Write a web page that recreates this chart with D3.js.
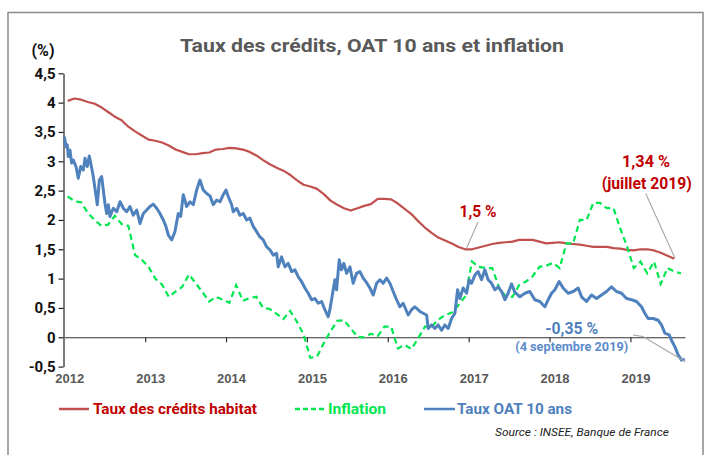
<!DOCTYPE html>
<html>
<head>
<meta charset="utf-8">
<script src="https://cdn.jsdelivr.net/npm/d3@7/dist/d3.min.js"></script>
<style>
  body { margin: 0; background: #fff; }
  svg { display: block; font-family: "Liberation Sans Narrow", "Roboto", "Liberation Sans", sans-serif; }
</style>
</head>
<body>
<div id="container"></div>
<script>
"use strict";

// Taux des credits habitat, mensuel, janvier 2012 -> juillet 2019
var creditValues = [
    4.03, 4.07, 4.05, 4.01, 3.98, 3.92, 3.84, 3.76, 3.70, 3.59, 3.51, 3.44,
    3.37, 3.35, 3.32, 3.27, 3.20, 3.16, 3.12, 3.12, 3.14, 3.15, 3.20, 3.21,
    3.23, 3.22, 3.20, 3.16, 3.10, 3.02, 2.95, 2.89, 2.84, 2.77, 2.68, 2.60,
    2.57, 2.53, 2.44, 2.33, 2.26, 2.20, 2.16, 2.20, 2.24, 2.27, 2.36, 2.36,
    2.35, 2.28, 2.19, 2.10, 1.98, 1.87, 1.78, 1.70, 1.65, 1.60, 1.54, 1.50,
    1.50, 1.53, 1.56, 1.59, 1.61, 1.62, 1.63, 1.66, 1.66, 1.66, 1.63, 1.60,
    1.61, 1.62, 1.60, 1.59, 1.58, 1.56, 1.54, 1.54, 1.54, 1.52, 1.51, 1.49,
    1.48, 1.50, 1.50, 1.48, 1.44, 1.39, 1.34
];

// Inflation, mensuel, janvier 2012 -> aout 2019
var inflationValues = [
    2.40, 2.32, 2.30, 2.12, 2.00, 1.90, 1.92, 2.07, 1.93, 1.90, 1.40, 1.32,
    1.20, 1.00, 0.90, 0.69, 0.78, 0.86, 1.07, 0.92, 0.77, 0.61, 0.69, 0.64,
    0.59, 0.89, 0.62, 0.67, 0.69, 0.50, 0.48, 0.40, 0.31, 0.45, 0.27, 0.05,
    -0.35, -0.33, -0.10, 0.10, 0.28, 0.29, 0.15, 0.01, 0.00, 0.06, 0.02, 0.18,
    0.18, -0.19, -0.13, -0.20, -0.02, 0.18, 0.18, 0.30, 0.38, 0.42, 0.55, 0.70,
    1.29, 1.20, 1.18, 1.18, 0.85, 0.70, 0.69, 0.89, 0.95, 1.04, 1.20, 1.22,
    1.27, 1.18, 1.60, 1.60, 2.00, 2.00, 2.29, 2.29, 2.20, 2.20, 1.85, 1.55,
    1.18, 1.29, 1.09, 1.29, 0.91, 1.18, 1.12, 1.09
];

// Taux OAT 10 ans : dates (annee decimale) et valeurs
var oatDates = [
    2012.000, 2012.021, 2012.037, 2012.049, 2012.070, 2012.091, 2012.111, 2012.145, 2012.173, 2012.203,
    2012.235, 2012.256, 2012.284, 2012.309, 2012.339, 2012.358, 2012.379, 2012.408, 2012.433, 2012.462,
    2012.482, 2012.503, 2012.524, 2012.544, 2012.565, 2012.606, 2012.648, 2012.689, 2012.729, 2012.771,
    2012.812, 2012.853, 2012.895, 2012.936, 2012.977, 2013.019, 2013.059, 2013.100, 2013.142, 2013.183,
    2013.224, 2013.257, 2013.286, 2013.328, 2013.368, 2013.409, 2013.439, 2013.471, 2013.513, 2013.554,
    2013.595, 2013.637, 2013.677, 2013.718, 2013.760, 2013.801, 2013.842, 2013.884, 2013.925, 2013.965,
    2014.000, 2014.027, 2014.069, 2014.089, 2014.131, 2014.172, 2014.213, 2014.255, 2014.295, 2014.336,
    2014.378, 2014.419, 2014.460, 2014.502, 2014.543, 2014.584, 2014.625, 2014.645, 2014.687, 2014.728,
    2014.769, 2014.811, 2014.852, 2014.893, 2014.934, 2014.975, 2015.016, 2015.058, 2015.099, 2015.140,
    2015.182, 2015.222, 2015.263, 2015.284, 2015.318, 2015.346, 2015.367, 2015.399, 2015.429, 2015.457,
    2015.491, 2015.532, 2015.572, 2015.614, 2015.655, 2015.696, 2015.738, 2015.779, 2015.820, 2015.862,
    2015.903, 2015.943, 2015.985, 2016.026, 2016.067, 2016.109, 2016.150, 2016.190, 2016.252, 2016.294,
    2016.335, 2016.397, 2016.438, 2016.480, 2016.500, 2016.541, 2016.582, 2016.623, 2016.665, 2016.706,
    2016.747, 2016.789, 2016.830, 2016.863, 2016.891, 2016.932, 2016.974, 2017.006, 2017.036, 2017.077,
    2017.117, 2017.159, 2017.200, 2017.241, 2017.283, 2017.324, 2017.365, 2017.407, 2017.448, 2017.488,
    2017.530, 2017.571, 2017.633, 2017.695, 2017.756, 2017.818, 2017.880, 2017.942, 2017.983, 2018.025,
    2018.066, 2018.119, 2018.168, 2018.230, 2018.292, 2018.354, 2018.396, 2018.457, 2018.519, 2018.581,
    2018.643, 2018.705, 2018.766, 2018.828, 2018.890, 2018.952, 2019.014, 2019.076, 2019.137, 2019.178,
    2019.219, 2019.281, 2019.343, 2019.385, 2019.426, 2019.479, 2019.508, 2019.549, 2019.590, 2019.632,
    2019.673
];
var oatValues = [
    3.42, 3.25, 3.28, 3.08, 3.19, 2.97, 3.02, 2.91, 2.71, 2.91,
    2.85, 3.05, 2.91, 3.09, 2.88, 2.74, 2.54, 2.26, 2.68, 2.74,
    2.51, 2.28, 2.11, 2.26, 2.06, 2.20, 2.14, 2.31, 2.20, 2.14,
    2.23, 2.08, 2.17, 1.94, 2.11, 2.17, 2.23, 2.27, 2.20, 2.11,
    2.00, 1.89, 1.74, 1.66, 1.80, 2.11, 2.06, 2.43, 2.23, 2.31,
    2.26, 2.51, 2.68, 2.51, 2.45, 2.41, 2.26, 2.34, 2.31, 2.43,
    2.51, 2.40, 2.26, 2.14, 2.20, 2.08, 2.11, 2.00, 2.03, 1.89,
    1.80, 1.71, 1.66, 1.54, 1.49, 1.40, 1.43, 1.20, 1.37, 1.20,
    1.26, 1.12, 1.15, 1.03, 0.95, 0.84, 0.75, 0.64, 0.66, 0.58,
    0.61, 0.47, 0.35, 0.47, 0.75, 0.98, 0.81, 1.32, 1.15, 1.26,
    1.09, 1.20, 0.92, 1.09, 1.12, 1.01, 0.93, 0.84, 0.72, 0.92,
    0.98, 0.92, 1.01, 0.92, 0.78, 0.64, 0.52, 0.58, 0.38, 0.47,
    0.52, 0.44, 0.41, 0.38, 0.15, 0.21, 0.15, 0.21, 0.12, 0.21,
    0.15, 0.32, 0.41, 0.81, 0.66, 0.84, 0.75, 0.98, 0.92, 1.06,
    1.12, 0.98, 1.15, 0.98, 0.92, 0.81, 0.86, 0.78, 0.64, 0.75,
    0.91, 0.77, 0.69, 0.75, 0.78, 0.64, 0.61, 0.52, 0.64, 0.75,
    0.81, 0.95, 0.84, 0.75, 0.78, 0.84, 0.69, 0.61, 0.72, 0.66,
    0.72, 0.78, 0.86, 0.78, 0.75, 0.66, 0.64, 0.61, 0.52, 0.41,
    0.32, 0.32, 0.29, 0.21, 0.07, 0.04, -0.05, -0.16, -0.30, -0.39,
    -0.38
];

var yTicks = [-0.5, 0, 0.5, 1, 1.5, 2, 2.5, 3, 3.5, 4, 4.5];
var years = [2012, 2013, 2014, 2015, 2016, 2017, 2018, 2019];

var width = 709,
    height = 455;

var svg = d3.select("#container").append("svg")
    .attr("width", width)
    .attr("height", height);

svg.append("rect")
    .attr("width", width)
    .attr("height", height)
    .attr("fill", "#fff");

// cadre
svg.append("rect")
    .attr("x", 8)
    .attr("y", 12.5)
    .attr("width", 695)
    .attr("height", 460)
    .attr("fill", "none")
    .attr("stroke", "#8a8a8a")
    .attr("stroke-width", 1.5);

var x = d3.scaleLinear().domain([2012, 2019.675]).range([64.3, 685]),
    y = d3.scaleLinear().domain([-0.5, 4.5]).range([366.6, 73.3]);

function frNum(d) {
    return String(d).replace(".", ",");
}

function monthly(values) {
    return values.map(function(v, i) {
        return { t: 2012 + (i + 0.5) / 12, v: v };
    });
}

var credit = monthly(creditValues),
    inflation = monthly(inflationValues),
    oat = oatDates.map(function(t, i) {
        return { t: t, v: oatValues[i] };
    });

// titre
svg.append("text")
    .attr("x", 372)
    .attr("y", 52)
    .attr("text-anchor", "middle")
    .attr("font-size", 19)
    .attr("font-weight", "bold")
    .attr("fill", "#595959")
    .attr("textLength", 384)
    .attr("lengthAdjust", "spacingAndGlyphs")
    .text("Taux des crédits, OAT 10 ans et inflation");

svg.append("text")
    .attr("x", 43)
    .attr("y", 56)
    .attr("text-anchor", "middle")
    .attr("font-size", 16)
    .attr("font-weight", "bold")
    .attr("fill", "#111")
    .text("(%)");

// axe Y
var yAxis = svg.append("g")
    .attr("transform", "translate(63.5,0)")
    .call(d3.axisLeft(y).tickValues(yTicks).tickSize(5).tickSizeOuter(0).tickPadding(3).tickFormat(frNum));

yAxis.select(".domain").attr("stroke", "#222").attr("stroke-width", 1.2);
yAxis.selectAll(".tick line").attr("stroke", "#222").attr("stroke-width", 1.2);
yAxis.selectAll(".tick text")
    .attr("font-size", 15)
    .attr("font-weight", "bold")
    .attr("fill", "#111")
    .attr("font-family", "Liberation Sans Narrow, Roboto, sans-serif");

// axe X sur la ligne du zero
var xAxis = svg.append("g")
    .attr("transform", "translate(0," + y(0) + ")")
    .call(d3.axisBottom(x).tickValues(years.slice(1)).tickSize(5).tickSizeOuter(0).tickFormat(""));

xAxis.select(".domain").attr("stroke", "#333").attr("stroke-width", 1.2);
xAxis.selectAll(".tick line").attr("stroke", "#333").attr("stroke-width", 1.2);

// etiquettes des annees
var xLabels = svg.append("g")
    .attr("transform", "translate(5,371)")
    .call(d3.axisBottom(x).tickValues(years).tickSize(0).tickFormat(d3.format("d")));

xLabels.select(".domain").remove();
xLabels.selectAll(".tick text")
    .attr("font-size", 13)
    .attr("font-weight", "bold")
    .attr("fill", "#595959");

var line = d3.line()
    .x(function(d) { return x(d.t); })
    .y(function(d) { return y(d.v); });

svg.append("path")
    .datum(credit)
    .attr("fill", "none")
    .attr("stroke", "#C0504D")
    .attr("stroke-width", 2.2)
    .attr("stroke-linejoin", "round")
    .attr("d", line);

svg.append("path")
    .datum(inflation)
    .attr("fill", "none")
    .attr("stroke", "#00E651")
    .attr("stroke-width", 2.2)
    .attr("stroke-dasharray", "6,4")
    .attr("d", line);

svg.append("path")
    .datum(oat)
    .attr("fill", "none")
    .attr("stroke", "#4F81BD")
    .attr("stroke-width", 3)
    .attr("stroke-linejoin", "round")
    .attr("d", line);

// annotations
var leaders = [
    [[478, 222], [466.7, 248]],
    [[645.7, 193.5], [675, 258.3]],
    [[633, 335], [643, 336.5], [685, 361.5]]
];

svg.selectAll(".leader")
    .data(leaders)
    .enter().append("polyline")
        .attr("class", "leader")
        .attr("points", function(d) { return d.join(" "); })
        .attr("fill", "none")
        .attr("stroke", "#a6a6a6")
        .attr("stroke-width", 1.1);

var notes = [
    { text: "1,5 %", x: 478, y: 216.5, size: 16, w: 37, color: "#C00000" },
    { text: "1,34 %", x: 646, y: 167, size: 16, w: 48, color: "#C00000" },
    { text: "(juillet 2019)", x: 646.7, y: 189, size: 16, w: 90, color: "#C00000" },
    { text: "-0,35 %", x: 571.7, y: 334, size: 16, w: 53, color: "#4F81BD" },
    { text: "(4 septembre 2019)", x: 571.7, y: 351, size: 12, w: 113, color: "#5B8BCB" }
];

svg.selectAll(".note")
    .data(notes)
    .enter().append("text")
        .attr("class", "note")
        .attr("x", function(d) { return d.x; })
        .attr("y", function(d) { return d.y; })
        .attr("text-anchor", "middle")
        .attr("font-size", function(d) { return d.size; })
        .attr("font-weight", "bold")
        .attr("fill", function(d) { return d.color; })
        .attr("textLength", function(d) { return d.w; })
        .attr("lengthAdjust", "spacingAndGlyphs")
        .text(function(d) { return d.text; });

// legende
var legend = [
    { label: "Taux des crédits habitat", color: "#C0504D", text: "#C00000", x1: 59, x2: 89, tx: 93, w: 164, dash: null },
    { label: "Inflation", color: "#00E651", text: "#00E651", x1: 295, x2: 325, tx: 328, w: 58, dash: "5,3" },
    { label: "Taux OAT 10 ans", color: "#4F81BD", text: "#4F81BD", x1: 424, x2: 455, tx: 457, w: 115, dash: null }
];

var ly = 409;

var lg = svg.selectAll(".legend")
    .data(legend)
    .enter().append("g")
        .attr("class", "legend");

lg.append("line")
    .attr("x1", function(d) { return d.x1; })
    .attr("x2", function(d) { return d.x2; })
    .attr("y1", ly)
    .attr("y2", ly)
    .attr("stroke", function(d) { return d.color; })
    .attr("stroke-width", 2.5)
    .attr("stroke-dasharray", function(d) { return d.dash; });

lg.append("text")
    .attr("x", function(d) { return d.tx; })
    .attr("y", ly + 5)
    .attr("font-size", 15)
    .attr("font-weight", "bold")
    .attr("fill", function(d) { return d.text; })
    .attr("textLength", function(d) { return d.w; })
    .attr("lengthAdjust", "spacingAndGlyphs")
    .text(function(d) { return d.label; });

svg.append("text")
    .attr("x", 495)
    .attr("y", 436)
    .attr("font-size", 11.5)
    .attr("font-style", "italic")
    .attr("fill", "#222")
    .attr("textLength", 174)
    .attr("lengthAdjust", "spacingAndGlyphs")
    .text("Source : INSEE, Banque de France");
</script>
</body>
</html>
